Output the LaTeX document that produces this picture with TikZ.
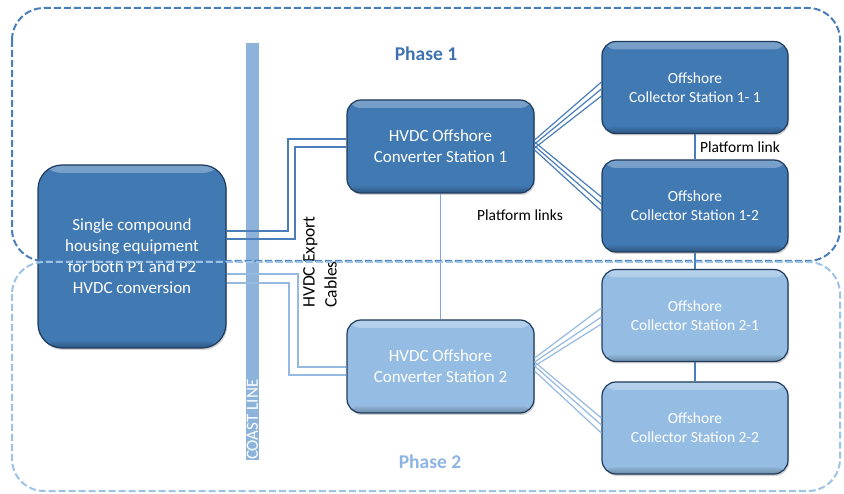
\documentclass[tikz,border=0pt]{standalone}
\usepackage{fontspec}
\setmainfont{Carlito}
\usetikzlibrary{shadows,fadings}

\definecolor{darkfill}{HTML}{4179B3}
\definecolor{lightfill}{HTML}{95BDE3}
\definecolor{boxedge}{HTML}{1E3A5C}
\definecolor{phaseone}{HTML}{4A7EBB}
\definecolor{phasetwo}{HTML}{9DC3E6}
\definecolor{cableone}{HTML}{4A7EBB}
\definecolor{cabletwo}{HTML}{95B9E0}
\definecolor{linkmid}{HTML}{7EA6D8}
\definecolor{coastcol}{HTML}{8DB3DA}
\definecolor{titleone}{HTML}{3F72AF}
\definecolor{titletwo}{HTML}{8DB4E2}

\tikzset{
  station/.style={rectangle, rounded corners=14pt, draw=boxedge, line width=1.2pt,
    text=white, align=center, inner sep=0pt,
    drop shadow={shadow xshift=1.2pt, shadow yshift=-2pt, opacity=0.35},
    path picture={
      \fill[white, opacity=0.3, path fading=south]
        (path picture bounding box.north west) rectangle
        ([yshift=-8pt]path picture bounding box.north east);
      \fill[black, opacity=0.28, path fading=north]
        (path picture bounding box.south west) rectangle
        ([yshift=8pt]path picture bounding box.south east);
    }},
  darkbox/.style={station, fill=darkfill},
  lightbox/.style={station, fill=lightfill},
  converter/.style={minimum width=187pt, minimum height=93pt,
    font=\fontsize{17}{21}\selectfont},
  collector/.style={minimum width=186pt, minimum height=92pt,
    font=\fontsize{15.5}{19}\selectfont},
  cable1/.style={draw=cableone, line width=1.2pt},
  cable2/.style={draw=cabletwo, line width=1.2pt},
  link1/.style={draw=cableone, line width=1.2pt},
  link2/.style={draw=linkmid, line width=1.2pt},
  phaseborder/.style={line width=2pt, dash pattern=on 7pt off 3pt, rounded corners=32pt},
  caption/.style={inner sep=0pt, text=black, font=\fontsize{15.5}{19}\selectfont},
  phasetitle/.style={inner sep=0pt, font=\fontsize{19.5}{23}\selectfont\bfseries},
  coastbar/.style={fill=coastcol, minimum width=13pt, minimum height=417pt, inner sep=0pt}
}

\begin{document}
\begin{tikzpicture}[x=1pt, y=-1pt]
\useasboundingbox (0,0) rectangle (844,494);

% coast line bar and its label
\node[coastbar] (coast) at (252.5,251.5) {};
\node[rotate=90, anchor=west, inner sep=0pt, text=white,
      font=\fontsize{17}{21}\selectfont] (coastlbl) at (coast.south) {COAST LINE};

% onshore hub and offshore stations
\node[darkbox, minimum width=188pt, minimum height=183pt, rounded corners=24pt,
      font=\fontsize{17}{21}\selectfont] (hub) at (132,256.5)
      {Single compound\\housing equipment\\for both P1 and P2\\HVDC conversion};
\node[darkbox, converter] (conv1) at (440.5,146.5) {HVDC Offshore\\Converter Station 1};
\node[lightbox, converter] (conv2) at (440.5,366.5) {HVDC Offshore\\Converter Station 2};
\node[darkbox, collector] (c11) at (695,87.5) {Offshore\\Collector Station 1- 1};
\node[darkbox, collector] (c12) at (695,206) {Offshore\\Collector Station 1-2};
\node[lightbox, collector] (c21) at (695,315.5) {Offshore\\Collector Station 2-1};
\node[lightbox, collector] (c22) at (695,428) {Offshore\\Collector Station 2-2};

% platform links between stations
\draw[link2] (conv1.south) -- (conv2.north);
\draw[link1] (c11.south) -- (c12.north);
\draw[link1] (c12.south) -- (c21.north);
\draw[link1] (c21.south) -- (c22.north);

% HVDC export cables
\draw[cable1] (hub.east |- 0,231) -| (288,139) -- (conv1.west |- 0,139);
\draw[cable1] (hub.east |- 0,239) -| (295,147) -- (conv1.west |- 0,147);
\draw[cable2] (hub.east |- 0,274) -| (298,367) -- (conv2.west |- 0,367);
\draw[cable2] (hub.east |- 0,283) -| (289,375) -- (conv2.west |- 0,375);

% inter-platform cable fans
\foreach \a/\b in {140/82, 144/89, 148/96}
  \draw[cable1] (conv1.east |- 0,\a) -- (c11.west |- 0,\b);
\foreach \a/\b in {142/197, 146/204, 150/211}
  \draw[cable1] (conv1.east |- 0,\a) -- (c12.west |- 0,\b);
\foreach \a/\b in {358/308, 362/317, 366/324}
  \draw[cable2] (conv2.east |- 0,\a) -- (c21.west |- 0,\b);
\foreach \a/\b in {362/418, 366/425, 371/433}
  \draw[cable2] (conv2.east |- 0,\a) -- (c22.west |- 0,\b);

% captions
\node[caption] (plinks) at (520,215) {Platform links};
\node[caption] (plink) at (740,147) {Platform link};
\node[caption, rotate=90, align=left, font=\fontsize{17.5}{22}\selectfont]
      (export) at (320,262) {HVDC Export\\Cables};

% phase areas
\draw[phaseborder, draw=phaseone] (12,8) rectangle (840,261);
\draw[phaseborder, draw=phasetwo] (12,262) rectangle (840,491);
\node[phasetitle, text=titleone] (ph1) at (426,54) {Phase 1};
\node[phasetitle, text=titletwo] (ph2) at (430,462) {Phase 2};
\end{tikzpicture}
\end{document}
